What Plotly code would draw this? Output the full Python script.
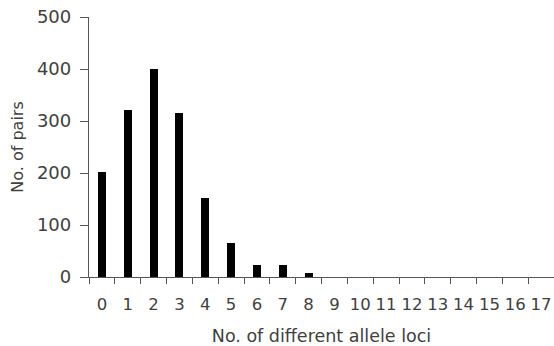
import plotly.graph_objects as go

categories = [str(i) for i in range(18)]
pairs = [202, 322, 400, 315, 151, 65, 24, 24, 8, 0, 0, 0, 0, 0, 0, 0, 0, 0]

TXT = "#404040"
AX = "#555555"

fig = go.Figure()
fig.add_trace(go.Bar(x=categories, y=pairs, width=0.31,
                     marker=dict(color="black", line=dict(width=0))))

fig.update_layout(
    width=554, height=346,
    margin=dict(l=89, r=0, t=17, b=69),
    plot_bgcolor="white", paper_bgcolor="white",
    showlegend=False,
    font=dict(family="DejaVu Sans", color=TXT),
    bargap=0,
)
fig.update_xaxes(
    type="category", range=[-0.5, 17.5], tickson="boundaries",
    automargin=False, tickangle=0,
    ticks="outside", ticklen=6, tickcolor=AX, tickwidth=1.3,
    showline=True, linecolor=AX, linewidth=1.3,
    showgrid=False, zeroline=False,
    tickfont=dict(size=16.5, color=TXT), ticklabelstandoff=12,
    title=dict(text="No. of different allele loci", font=dict(size=17.5, color=TXT), standoff=20),
)
fig.update_yaxes(
    range=[0, 500], tickvals=[0, 100, 200, 300, 400, 500],
    automargin=False,
    ticks="outside", ticklen=8, tickcolor=AX, tickwidth=1.3,
    showline=True, linecolor=AX, linewidth=1.3,
    showgrid=False, zeroline=False,
    tickfont=dict(size=18, color=TXT), ticklabelstandoff=5,
    title=dict(text="No. of pairs", font=dict(size=16, color=TXT), standoff=9),
)

fig.write_html("out.html")
